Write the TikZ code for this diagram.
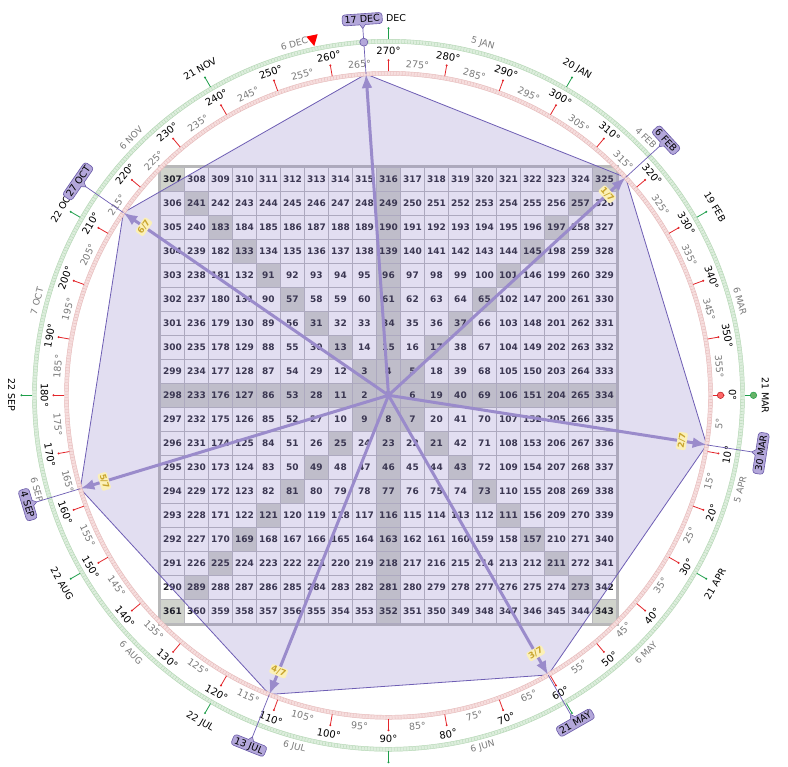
\documentclass[tikz,border=0pt]{standalone}
\usepackage{fontspec}
\setmainfont{DejaVu Sans}
\usetikzlibrary{arrows.meta}
\definecolor{cellline}{HTML}{B8B8BC}
\definecolor{celltext}{HTML}{1F1F2B}
\definecolor{cellshade}{HTML}{D0D3CC}
\definecolor{framegray}{HTML}{B8B8B8}
\definecolor{hepfill}{HTML}{8F7FC8}
\definecolor{hepline}{HTML}{6E5EB4}
\definecolor{spokecol}{HTML}{9A8BCB}
\definecolor{redband}{HTML}{F6DEDE}
\definecolor{redbandline}{HTML}{E6B9B9}
\definecolor{greenband}{HTML}{DDEEDD}
\definecolor{greenbandline}{HTML}{B3D6B3}
\definecolor{redtickcol}{HTML}{E3262B}
\definecolor{greentickcol}{HTML}{1E9E4A}
\definecolor{graylab}{HTML}{7A7A7A}
\definecolor{boxfill}{HTML}{B3A7DA}
\definecolor{boxline}{HTML}{6A5AA8}
\definecolor{fracfill}{HTML}{FBF0B8}
\definecolor{fractext}{HTML}{C9A52E}
\newcommand\spiralnum[2]{%
  \pgfmathtruncatemacro\sk{max(abs(#1),abs(#2))}%
  \ifnum\sk=0 \def\snum{1}\else
    \pgfmathtruncatemacro\sm{(2*\sk-1)^2}%
    \ifnum#1=-\sk\relax
      \ifnum#2<\sk\relax \pgfmathtruncatemacro\snum{\sm+1+(\sk-1-(#2))}%
      \else \pgfmathtruncatemacro\snum{\sm+6*\sk+(\sk-(#1))}\fi
    \else\ifnum#2=-\sk\relax \pgfmathtruncatemacro\snum{\sm+2*\sk+((#1)+\sk)}%
    \else\ifnum#1=\sk\relax \pgfmathtruncatemacro\snum{\sm+4*\sk+((#2)+\sk)}%
    \else \pgfmathtruncatemacro\snum{\sm+6*\sk+(\sk-(#1))}%
    \fi\fi\fi
  \fi}
\begin{document}
\begin{tikzpicture}[x=1pt,y=1pt,
 celltxt/.style={inner sep=0.5pt,font=\bfseries\fontsize{9}{9}\selectfont,text=celltext},
 deglab/.style={font=\fontsize{10}{10}\selectfont,inner sep=0pt},
 halflab/.style={font=\fontsize{9.5}{10}\selectfont,text=graylab,inner sep=0pt},
 datelab/.style={font=\fontsize{9.5}{10}\selectfont,inner sep=0pt},
 midlab/.style={font=\fontsize{9}{10}\selectfont,text=graylab,inner sep=0pt},
 datebox/.style={draw=boxline,fill=boxfill,rounded corners=3pt,line width=0.6pt,font=\fontsize{9.5}{10}\selectfont,inner xsep=2.5pt,inner ysep=2pt,text height=7pt,text depth=0pt},
 fraclab/.style={fill=fracfill,text=fractext,rounded corners=2pt,inner sep=1.3pt,font=\bfseries\fontsize{8.5}{9}\selectfont},
 hepedge/.style={draw=hepline,line width=0.8pt,line join=round},
 spoke/.style={spokecol,line width=3pt,-{Latex[length=14pt,width=11pt]}},
 redtick/.style={redtickcol,line width=0.8pt},
 greentick/.style={greentickcol,line width=0.8pt}]
\clip (-388.5,-371.7) rectangle (399.5,395.3);
\fill[white] (-388.5,-371.7) rectangle (399.5,395.3);
% grid
\foreach \i in {-9,...,9}{\foreach \j in {-9,...,9}{%
  \spiralnum{\i}{\j}%
  \pgfmathtruncatemacro\shd{(\i==0)||(\j==0)||(abs(\i)==abs(\j))}%
  \ifnum\shd=1 \def\cf{cellshade}\else\def\cf{white}\fi
  \filldraw[fill=\cf,draw=cellline,line width=0.6pt] (24*\i-12,-24*\j-12) rectangle (24*\i+12,-24*\j+12);
  \node[celltxt] (c\i_\j) at (24*\i,-24*\j) {\snum};
}}
\draw[framegray,line width=2.5pt] (-229.5,-229.5) rectangle (229.5,229.5);
% heptagon
\foreach \k in {0,...,6}{\pgfmathsetmacro\ang{-(266+\k*360/7)}\coordinate (v\k) at (\ang:322);}
\fill[hepfill,opacity=0.25] (v0)--(v1)--(v2)--(v3)--(v4)--(v5)--(v6)--cycle;
\draw[hepedge] (v0)--(v1)--(v2)--(v3)--(v4)--(v5)--(v6)--cycle;
% rings
\draw[redband,line width=4pt] (0,0) circle (322);
\draw[redbandline,line width=3.2pt,dash pattern=on 0.35pt off 2.65pt] (0,0) circle (322);
\draw[redbandline,line width=0.45pt] (0,0) circle (320) (0,0) circle (324);
\draw[greenband,line width=4pt] (0,0) circle (354);
\draw[greenbandline,line width=3.2pt,dash pattern=on 0.35pt off 2.65pt] (0,0) circle (354);
\draw[greenbandline,line width=0.45pt] (0,0) circle (352) (0,0) circle (356);
% ticks
\foreach \d in {0,10,...,350}{\draw[redtick] (-\d:324) -- (-\d:335); \fill[redtickcol] (-\d:335) circle (1.1);}
\foreach \d in {0,30,...,330}{\draw[greentick] (-\d:356) -- (-\d:367); \fill[greentickcol] (-\d:367) circle (1.1);}
\node[circle,fill=red!60,draw=redtickcol!80!black,line width=0.5pt,minimum size=6.5pt,inner sep=0pt] (rdot) at (0:332) {};
\node[circle,fill=green!50!black!60!white,draw=greentickcol,line width=0.5pt,minimum size=6.5pt,inner sep=0pt] (gdot) at (0:365) {};
\fill[red] (-258:357) -- (-257.1:368) -- (-258.9:368) -- cycle;
% degree labels
\foreach \d in {0,10,...,350}{%
  \pgfmathsetmacro\rot{mod(\d,180)==0 ? -90 : 90-mod(\d,180)}%
  \node[deglab,rotate=\rot] (dg\d) at (-\d:344) {{\d}°};}
\foreach \d in {5,15,...,355}{%
  \pgfmathsetmacro\rot{90-mod(\d,180)}%
  \node[halflab,rotate=\rot] (hd\d) at (-\d:332) {{\d}°};}
% date labels
\foreach \d/\dlab in {0/21 MAR,30/21 APR,60/21 MAY,120/22 JUL,150/22 AUG,180/22 SEP,210/22 OCT,240/21 NOV,270/21 DEC,300/20 JAN,330/19 FEB}{%
  \pgfmathsetmacro\rot{mod(\d,180)==0 ? -90 : 90-mod(\d,180)}%
  \node[datelab,rotate=\rot] (dt\d) at (-\d:377) {\dlab};}
\foreach \d/\dlab in {15/5 APR,45/6 MAY,75/6 JUN,105/6 JUL,135/6 AUG,165/6 SEP,195/7 OCT,225/6 NOV,255/6 DEC,285/5 JAN,315/4 FEB,345/6 MAR}{%
  \pgfmathsetmacro\rot{90-mod(\d,180)}%
  \node[midlab,rotate=\rot] (md\d) at (-\d:364) {\dlab};}
% vertex date boxes
\foreach \k/\bl in {0/17 DEC,1/6 FEB,2/30 MAR,3/21 MAY,4/13 JUL,5/4 SEP,6/27 OCT}{%
  \pgfmathsetmacro\dd{mod(266+\k*360/7,360)}%
  \pgfmathsetmacro\rot{90-mod(\dd,180)}%
  \node[datebox,rotate=\rot] (b\k) at (-\dd:377) {\bl};
  \filldraw[fill=boxfill,draw=boxline,line width=0.6pt,line join=round] (-\dd-0.45:371.9) -- (-\dd:367.6) -- (-\dd+0.45:371.9);
  \fill[boxfill] (-\dd-0.4:372.2) -- (-\dd:369) -- (-\dd+0.4:372.2) -- cycle;
  \draw[hepline,line width=0.7pt] (v\k) -- (-\dd:367.6);}
\node[circle,draw=boxline,fill=boxfill,minimum size=8pt,inner sep=0pt,line width=0.6pt] (mk) at (-266:354) {};
% spokes
\coordinate (o) at (0,0);
\foreach \k in {0,...,6}{\draw[spoke] (o) -- (v\k);}
\foreach \k in {1,...,6}{%
  \pgfmathsetmacro\dd{mod(266+\k*360/7,360)}%
  \pgfmathsetmacro\rot{90-mod(\dd,180)}%
  \node[fraclab,rotate=\rot] (f\k) at (-\dd:297) {\k/7};}
\end{tikzpicture}
\end{document}
